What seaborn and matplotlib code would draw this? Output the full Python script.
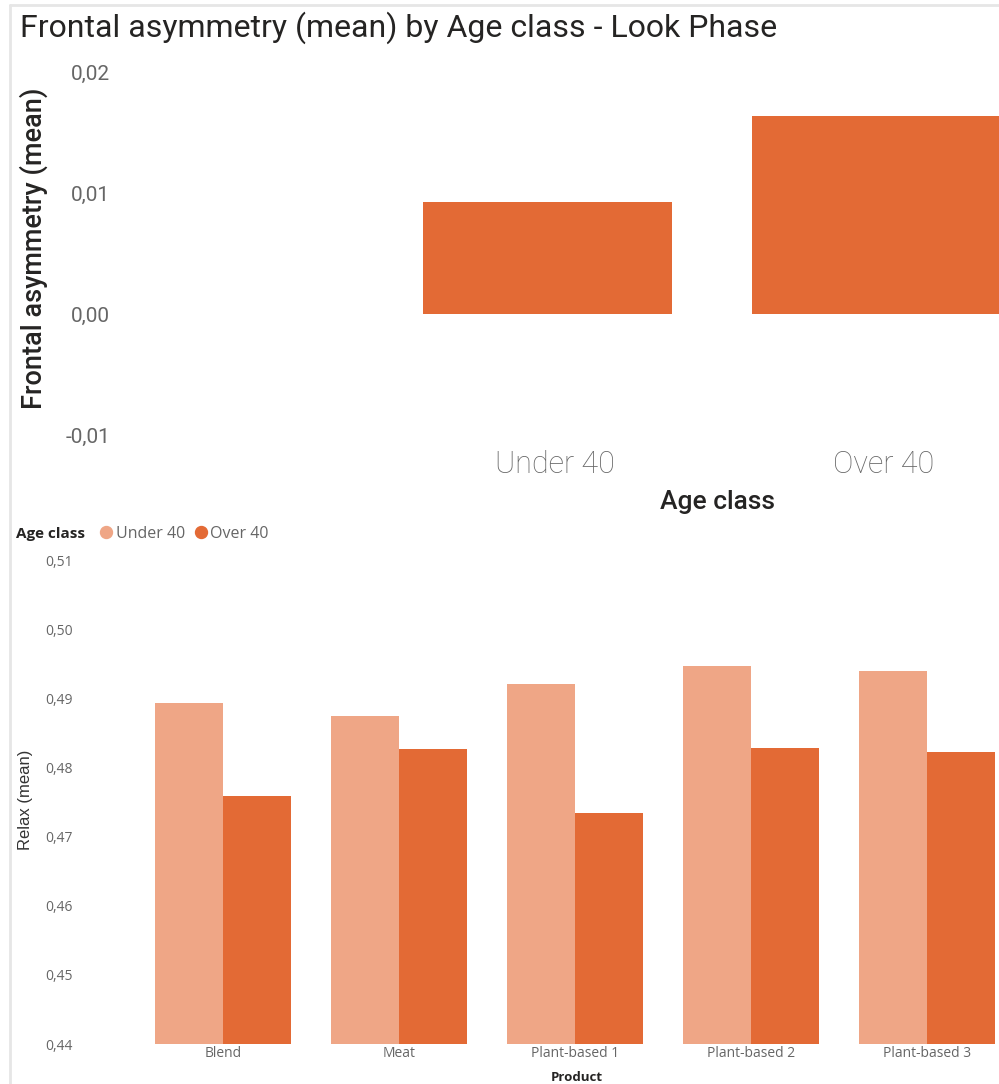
import matplotlib
matplotlib.use("Agg")
import matplotlib.pyplot as plt
from matplotlib.ticker import FixedLocator, FuncFormatter
from matplotlib.lines import Line2D
from matplotlib.transforms import ScaledTranslation
import seaborn as sns
import pandas as pd

# Frontal asymmetry by age class
age_classes = ["Under 40", "Over 40"]
frontal_asym = [0.00926, 0.01636]

# Relax by product and age class
products = ["Blend", "Meat", "Plant-based 1", "Plant-based 2", "Plant-based 3"]
relax_under40 = [0.4893, 0.4875, 0.4920, 0.4946, 0.4940]
relax_over40 = [0.4758, 0.4826, 0.4734, 0.4828, 0.4823]

top_ticks = [-0.01, 0.00, 0.01, 0.02]
bottom_ticks = [0.44, 0.45, 0.46, 0.47, 0.48, 0.49, 0.50, 0.51]

c_under = "#EFA686"
c_over = "#E36A35"
tick_grey = "#666666"
dark = "#252423"
ui_font = ["Open Sans", "DejaVu Sans"]

sns.set_theme(style="white")
plt.rcParams["font.family"] = ["Roboto", "DejaVu Sans"]

W, H = 999, 1084
fig = plt.figure(figsize=(W / 100, H / 100), dpi=100)


def px_axes(left, top, right, bottom):
    return fig.add_axes([left / W, 1 - bottom / H, (right - left) / W, (bottom - top) / H])


def comma_fmt(v, _):
    return f"{v:.2f}".replace(".", ",")


# Panel frame lines
fig.add_artist(Line2D([10 / W, 1.0], [1 - 5 / H, 1 - 5 / H], color="#E6E6E6", lw=2))
fig.add_artist(Line2D([10 / W, 10 / W], [0, 1 - 5 / H], color="#E6E6E6", lw=2))

# ---- Top chart ----
ax1 = px_axes(130, 60, 999, 445)
df_top = pd.DataFrame({"Age class": age_classes, "Frontal asymmetry (mean)": frontal_asym})
sns.barplot(data=df_top, x="Age class", y="Frontal asymmetry (mean)", color=c_over,
            width=0.757, linewidth=0, saturation=1, ax=ax1)
ax1.set_xlim((130 - 547.5) / 329, (999 - 547.5) / 329)
ax1.set_ylim((314 - 445) / 121 * 0.01, (314 - 60) / 121 * 0.01)
ax1.yaxis.set_major_locator(FixedLocator(top_ticks))
ax1.yaxis.set_major_formatter(FuncFormatter(comma_fmt))
ax1.tick_params(axis="y", length=0, pad=14.4, labelsize=15, labelcolor=tick_grey)
ax1.tick_params(axis="x", length=0, pad=3.5, labelsize=22, labelcolor=tick_grey)
shift = ScaledTranslation(7 / 100, 0, fig.dpi_scale_trans)
for lbl in ax1.get_xticklabels():
    lbl.set_fontweight("light")
    lbl.set_transform(lbl.get_transform() + shift)
ax1.set_xlabel("Age class", fontsize=19, color=dark, fontweight="medium")
ax1.xaxis.set_label_coords((718 - 130) / 869, (445 - 490) / 385)
ax1.set_ylabel("Frontal asymmetry (mean)", fontsize=19.5, color=dark, fontweight="medium")
ax1.yaxis.set_label_coords((48 - 130) / 869, 0.51)
for s in ax1.spines.values():
    s.set_visible(False)

fig.text(20 / W, 1 - 28 / H, "Frontal asymmetry (mean) by Age class - Look Phase",
         fontsize=23, color=dark, va="center", ha="left", fontweight="normal")

# ---- Bottom chart ----
b_top, b_bot = 553, 1044
ax2 = px_axes(90, b_top, 999, b_bot)
df_bot = pd.DataFrame({
    "Product": products * 2,
    "Age class": ["Under 40"] * len(products) + ["Over 40"] * len(products),
    "Relax (mean)": relax_under40 + relax_over40,
})
sns.barplot(data=df_bot, x="Product", y="Relax (mean)", hue="Age class",
            hue_order=age_classes, palette=[c_under, c_over], width=0.773,
            gap=0, linewidth=0, saturation=1, ax=ax2)
if ax2.get_legend() is not None:
    ax2.get_legend().remove()
ax2.set_xlim((90 - 223) / 176, (999 - 223) / 176)
ax2.set_ylim(0.44, 0.44 + (b_bot - b_top) / 69.14 * 0.01)
ax2.yaxis.set_major_locator(FixedLocator(bottom_ticks))
ax2.yaxis.set_major_formatter(FuncFormatter(comma_fmt))
ax2.tick_params(axis="y", length=0, pad=12.5, labelsize=10, labelcolor=tick_grey)
ax2.tick_params(axis="x", length=0, pad=1.5, labelsize=10, labelcolor=tick_grey)
for lbl in ax2.get_xticklabels() + ax2.get_yticklabels():
    lbl.set_fontfamily(ui_font)
ax2.set_xlabel("Product", fontsize=9.5, color=dark, fontweight="bold", fontfamily=ui_font,
               va="bottom")
ax2.xaxis.set_label_coords((577 - 90) / 909, (b_bot - 1084) / (b_bot - b_top))
ax2.set_ylabel("Relax (mean)", fontsize=12, color="#333333",
               fontfamily=["Liberation Sans", "DejaVu Sans"])
ax2.yaxis.set_label_coords((33 - 90) / 909, 0.498)
for s in ax2.spines.values():
    s.set_visible(False)

# Legend row
fig.text(16 / W, 1 - 534 / H, "Age class", fontsize=11, fontweight="bold", color=dark,
         va="center", ha="left", fontfamily=ui_font)
handles = [Line2D([], [], marker="o", linestyle="", markersize=8.6, color=c)
           for c in (c_under, c_over)]
fig.legend(handles, age_classes, loc="center left", bbox_to_anchor=(100 / W, 1 - 534 / H),
           ncol=2, frameon=False, handletextpad=0.2, columnspacing=0.6,
           borderaxespad=0, borderpad=0, handlelength=0.78,
           prop={"family": ui_font, "size": 11.5},
           labelcolor=tick_grey)

fig.savefig("out.png", dpi=100, facecolor="white")
